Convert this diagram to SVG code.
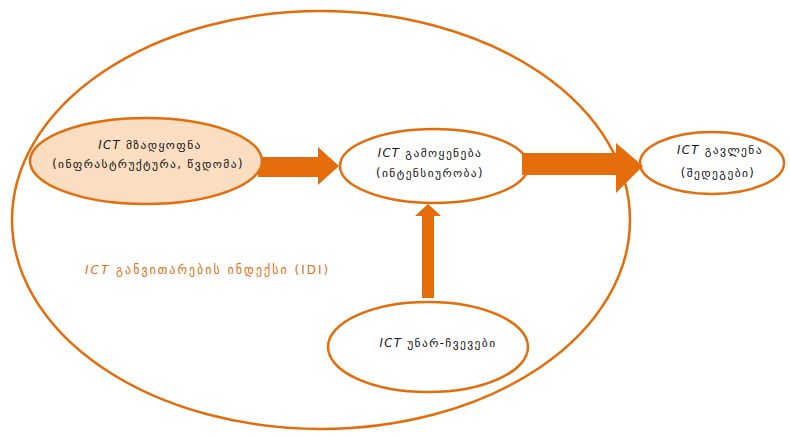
<svg xmlns="http://www.w3.org/2000/svg" width="790" height="438" viewBox="0 0 790 438">
<style>
.ring{fill:none;stroke:#E46C0A;stroke-width:2.5}
.fill{fill:#FBDDC2;stroke:#E46C0A;stroke-width:2.5}
.t{font-family:"DejaVu Sans",sans-serif;font-size:11.5px;letter-spacing:1.4px;fill:#111;text-anchor:middle}
.o{font-family:"DejaVu Sans",sans-serif;font-size:12px;letter-spacing:2px;fill:#E46C0A}
.i{font-style:italic}
.arr{fill:#E46C0A}
</style>
<rect width="790" height="438" fill="#fff"/>
<g id="idi">
<ellipse class="ring" cx="321" cy="220" rx="309" ry="209"/>
<text class="o" x="85" y="274"><tspan class="i">ICT</tspan> განვითარების ინდექსი (IDI)</text>
</g>
<g id="connectors">
<polygon class="arr" points="258,157 318,157 318,147 339,166 318,185 318,177 258,177"/>
<polygon class="arr" points="522,153 616,153 616,143 643,166 616,193 616,175 522,175"/>
<polygon class="arr" points="422,298 422,216 415,216 428,204 441,216 434,216 434,298"/>
</g>
<g id="readiness">
<ellipse class="fill" cx="146" cy="161" rx="116" ry="43"/>
<text class="t" x="150" y="149"><tspan class="i">ICT</tspan> მზადყოფნა</text>
<text class="t" x="148" y="168">(ინფრასტრუქტურა, წვდომა)</text>
</g>
<g id="use">
<ellipse class="ring" cx="434" cy="166" rx="94" ry="37"/>
<text class="t" x="430" y="157"><tspan class="i">ICT</tspan> გამოყენება</text>
<text class="t" x="430" y="177">(ინტენსიურობა)</text>
</g>
<g id="impact">
<ellipse class="ring" cx="712" cy="163" rx="72" ry="31"/>
<text class="t" x="720" y="154"><tspan class="i">ICT</tspan> გავლენა</text>
<text class="t" x="718" y="177">(შედეგები)</text>
</g>
<g id="skills">
<ellipse class="ring" cx="428" cy="347" rx="100" ry="45"/>
<text class="t" x="438" y="347"><tspan class="i">ICT</tspan> უნარ-ჩვევები</text>
</g>
</svg>
